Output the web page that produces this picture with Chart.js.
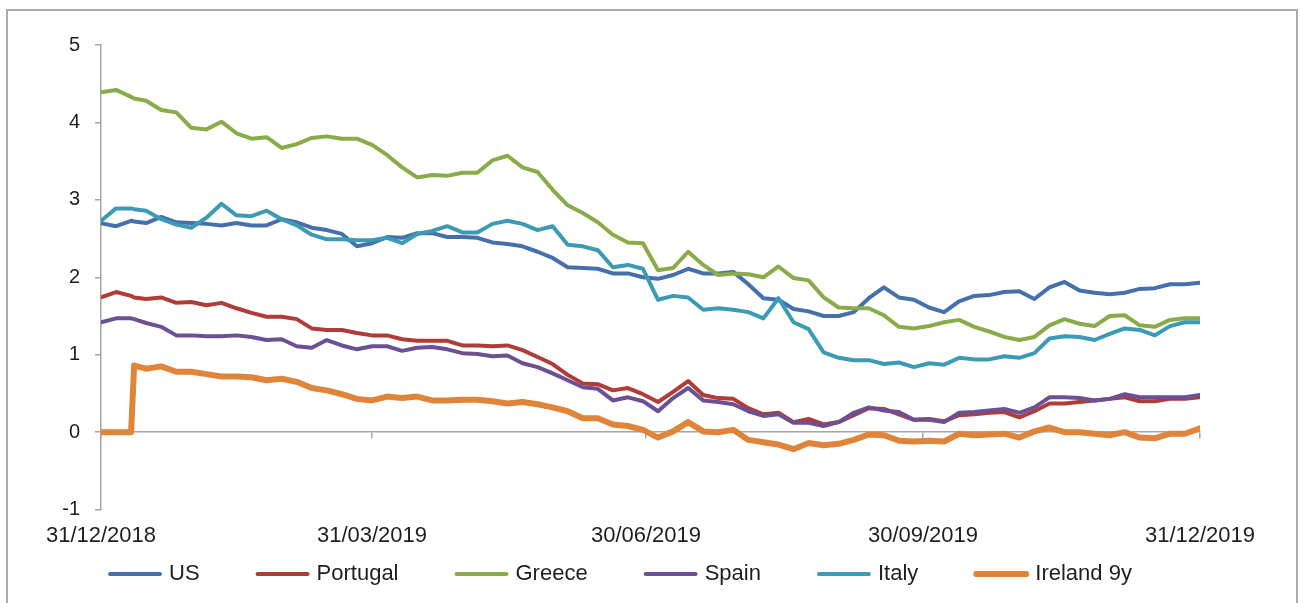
<!DOCTYPE html>
<html>
<head>
<meta charset="utf-8">
<title>10y government bond yields, 2019</title>
<script src="https://cdn.jsdelivr.net/npm/chart.js@4.4.1/dist/chart.umd.min.js"></script>
<style>
  html, body { margin: 0; padding: 0; background: #fff; overflow: hidden; }
  #wrap { position: relative; width: 1300px; height: 603px; }
  #frame {
    position: absolute; left: 6px; top: 9px; width: 1292px; height: 700px;
    border: 2px solid #ababab; box-sizing: border-box; pointer-events: none;
  }
  canvas { position: absolute; left: 0; top: 0; }
</style>
</head>
<body>
<div id="wrap">
  <canvas id="yields" width="1300" height="603"></canvas>
  <div id="frame"></div>
</div>
<script>
// days since 31/12/2018
var days = [0, 5, 10, 11, 15, 20, 25, 30, 35, 40, 45, 50, 55, 60, 65, 70, 75, 80, 85, 90,
  95, 100, 105, 110, 115, 120, 125, 130, 135, 140, 145, 150, 155, 160, 165, 170, 175, 180,
  185, 190, 195, 200, 205, 210, 215, 220, 225, 230, 235, 240, 245, 250, 255, 260, 265, 270,
  275, 280, 285, 290, 295, 300, 305, 310, 315, 320, 325, 330, 335, 340, 345, 350, 355, 360, 365];

var tickDays = [0, 90, 181, 273, 365];
var tickLabels = ['31/12/2018', '31/03/2019', '30/06/2019', '30/09/2019', '31/12/2019'];

var us = [2.70, 2.66, 2.73, 2.72, 2.70, 2.78, 2.71, 2.70, 2.69, 2.67, 2.70, 2.67, 2.67, 2.75, 2.71,
  2.64, 2.61, 2.56, 2.40, 2.44, 2.52, 2.51, 2.57, 2.57, 2.52, 2.52, 2.51, 2.45, 2.43, 2.40,
  2.33, 2.25, 2.13, 2.12, 2.11, 2.05, 2.05, 2.00, 1.98, 2.03, 2.11, 2.05, 2.05, 2.07, 1.91,
  1.73, 1.71, 1.59, 1.56, 1.50, 1.50, 1.55, 1.73, 1.87, 1.74, 1.71, 1.61, 1.55, 1.69, 1.76,
  1.77, 1.81, 1.82, 1.72, 1.87, 1.94, 1.83, 1.80, 1.78, 1.80, 1.85, 1.86, 1.91, 1.91, 1.93];

var portugal = [1.74, 1.81, 1.76, 1.74, 1.72, 1.74, 1.67, 1.68, 1.64, 1.67, 1.60, 1.54, 1.49, 1.49, 1.46,
  1.34, 1.32, 1.32, 1.28, 1.25, 1.25, 1.20, 1.18, 1.18, 1.18, 1.12, 1.12, 1.11, 1.12, 1.06,
  0.97, 0.88, 0.74, 0.63, 0.62, 0.54, 0.57, 0.49, 0.39, 0.52, 0.66, 0.48, 0.44, 0.43, 0.31,
  0.23, 0.25, 0.13, 0.17, 0.10, 0.13, 0.22, 0.31, 0.30, 0.23, 0.16, 0.17, 0.14, 0.22, 0.23,
  0.25, 0.26, 0.19, 0.27, 0.37, 0.37, 0.39, 0.41, 0.43, 0.45, 0.40, 0.40, 0.43, 0.43, 0.45];

var greece = [4.39, 4.42, 4.33, 4.31, 4.28, 4.16, 4.13, 3.93, 3.91, 4.01, 3.86, 3.79, 3.81, 3.67, 3.72,
  3.80, 3.82, 3.79, 3.79, 3.71, 3.58, 3.42, 3.29, 3.32, 3.31, 3.35, 3.35, 3.51, 3.57, 3.42,
  3.36, 3.13, 2.93, 2.83, 2.71, 2.55, 2.45, 2.44, 2.09, 2.12, 2.33, 2.16, 2.03, 2.05, 2.04,
  2.00, 2.14, 1.99, 1.96, 1.74, 1.61, 1.60, 1.60, 1.51, 1.36, 1.34, 1.37, 1.42, 1.45, 1.36,
  1.30, 1.23, 1.19, 1.23, 1.38, 1.46, 1.40, 1.37, 1.50, 1.51, 1.38, 1.36, 1.45, 1.47, 1.47];

var spain = [1.42, 1.47, 1.47, 1.46, 1.41, 1.36, 1.25, 1.25, 1.24, 1.24, 1.25, 1.23, 1.19, 1.20, 1.11,
  1.09, 1.19, 1.12, 1.07, 1.11, 1.11, 1.05, 1.09, 1.10, 1.07, 1.02, 1.01, 0.98, 0.99, 0.89,
  0.84, 0.76, 0.67, 0.58, 0.56, 0.41, 0.45, 0.40, 0.27, 0.44, 0.57, 0.41, 0.39, 0.36, 0.27,
  0.21, 0.23, 0.12, 0.12, 0.08, 0.13, 0.25, 0.32, 0.28, 0.26, 0.16, 0.16, 0.13, 0.25, 0.26,
  0.28, 0.30, 0.25, 0.32, 0.45, 0.45, 0.44, 0.41, 0.43, 0.49, 0.45, 0.45, 0.45, 0.45, 0.48];

var italy = [2.73, 2.89, 2.89, 2.88, 2.86, 2.75, 2.68, 2.64, 2.77, 2.95, 2.80, 2.79, 2.86, 2.75, 2.67,
  2.55, 2.49, 2.49, 2.48, 2.48, 2.51, 2.44, 2.56, 2.60, 2.66, 2.58, 2.58, 2.69, 2.73, 2.69,
  2.61, 2.66, 2.42, 2.40, 2.35, 2.13, 2.16, 2.11, 1.71, 1.76, 1.74, 1.58, 1.60, 1.58, 1.55,
  1.47, 1.73, 1.42, 1.33, 1.03, 0.96, 0.93, 0.93, 0.88, 0.90, 0.84, 0.89, 0.87, 0.96, 0.94,
  0.94, 0.98, 0.96, 1.02, 1.21, 1.24, 1.23, 1.19, 1.27, 1.34, 1.32, 1.25, 1.37, 1.42, 1.42];

var ireland9y = [0, 0, 0, 0.86, 0.82, 0.85, 0.78, 0.78, 0.75, 0.72, 0.72, 0.71, 0.67, 0.69, 0.65,
  0.57, 0.54, 0.49, 0.43, 0.41, 0.46, 0.44, 0.46, 0.41, 0.41, 0.42, 0.42, 0.40, 0.37, 0.39,
  0.36, 0.32, 0.27, 0.18, 0.18, 0.10, 0.08, 0.03, -0.07, 0.01, 0.13, 0.01, 0.00, 0.03, -0.10,
  -0.13, -0.16, -0.22, -0.14, -0.17, -0.15, -0.10, -0.03, -0.04, -0.11, -0.12, -0.11, -0.12, -0.02, -0.04,
  -0.03, -0.02, -0.07, 0.01, 0.06, 0.00, 0.00, -0.02, -0.04, 0.00, -0.07, -0.08, -0.02, -0.02, 0.05];

var seriesNames = ['US', 'Portugal', 'Greece', 'Spain', 'Italy', 'Ireland 9y'];
var seriesValues = [us, portugal, greece, spain, italy, ireland9y];
var seriesColors = ['#4670ab', '#af3c38', '#8aab49', '#6b5193', '#3c9bb4', '#e0843a'];
var seriesWidths = [4, 4, 4, 4, 4, 6];

var axisGray = '#a6a6a6';
var textColor = '#1e1e1e';
var fontFamily = '"Liberation Sans", Arial, Helvetica, sans-serif';

function points(values) {
  return days.map(function (d, i) { return { x: d, y: values[i] }; });
}

var datasets = seriesNames.map(function (name, i) {
  return {
    label: name,
    data: points(seriesValues[i]),
    borderColor: seriesColors[i],
    backgroundColor: seriesColors[i],
    borderWidth: seriesWidths[i],
    borderJoinStyle: 'round',
    borderCapStyle: 'round',
    pointRadius: 0,
    tension: 0,
    order: seriesNames.length - i   // later series drawn on top
  };
});

function quarterTicks(scale) {
  scale.ticks = tickDays.map(function (v) { return { value: v }; });
}

// legend row under the date labels: short line then the series name
var lineLegend = {
  id: 'lineLegend',
  afterDraw: function (chart) {
    var ctx = chart.ctx;
    var y = 574;
    var x = chart.chartArea.left + 6;
    ctx.save();
    ctx.font = '22px ' + fontFamily;
    ctx.textBaseline = 'middle';
    ctx.lineCap = 'round';
    chart.data.datasets.forEach(function (ds) {
      ctx.strokeStyle = ds.borderColor;
      ctx.lineWidth = ds.borderWidth;
      ctx.beginPath();
      ctx.moveTo(x + 3, y);
      ctx.lineTo(x + 53, y);
      ctx.stroke();
      ctx.fillStyle = textColor;
      ctx.fillText(ds.label, x + 62, y);
      x += 62 + ctx.measureText(ds.label).width + 55;
    });
    ctx.restore();
  }
};

var chart = new Chart(document.getElementById('yields').getContext('2d'), {
  type: 'line',
  data: { datasets: datasets },
  options: {
    responsive: false,
    animation: false,
    layout: { padding: { left: 0, right: 100, top: 45, bottom: 41 } },
    plugins: {
      legend: { display: false },
      tooltip: { enabled: false }
    },
    scales: {
      x: {
        type: 'linear',
        min: 0,
        max: 365,
        afterBuildTicks: quarterTicks,
        grid: { display: false, drawTicks: false },
        border: { display: false },
        ticks: {
          autoSkip: false,
          maxRotation: 0,
          minRotation: 0,
          padding: 13,
          color: textColor,
          font: { family: fontFamily, size: 22 },
          callback: function (value) {
            var i = tickDays.indexOf(value);
            return i < 0 ? '' : tickLabels[i];
          }
        }
      },
      xZero: {
        type: 'linear',
        axis: 'x',
        position: { y: 0 },
        min: 0,
        max: 365,
        afterBuildTicks: quarterTicks,
        ticks: { display: false },
        grid: { drawOnChartArea: false, drawTicks: true, tickLength: 6, color: axisGray, lineWidth: 1.5 },
        border: { display: true, color: axisGray, width: 1.5 }
      },
      y: {
        min: -1,
        max: 5,
        afterFit: function (scale) { scale.width = 101; },
        ticks: {
          stepSize: 1,
          padding: 15,
          color: textColor,
          font: { family: fontFamily, size: 20 }
        },
        grid: { drawOnChartArea: false, drawTicks: true, tickLength: 6, color: axisGray, lineWidth: 1.5 },
        border: { color: axisGray, width: 1.5 }
      }
    }
  },
  plugins: [lineLegend]
});
</script>
</body>
</html>
